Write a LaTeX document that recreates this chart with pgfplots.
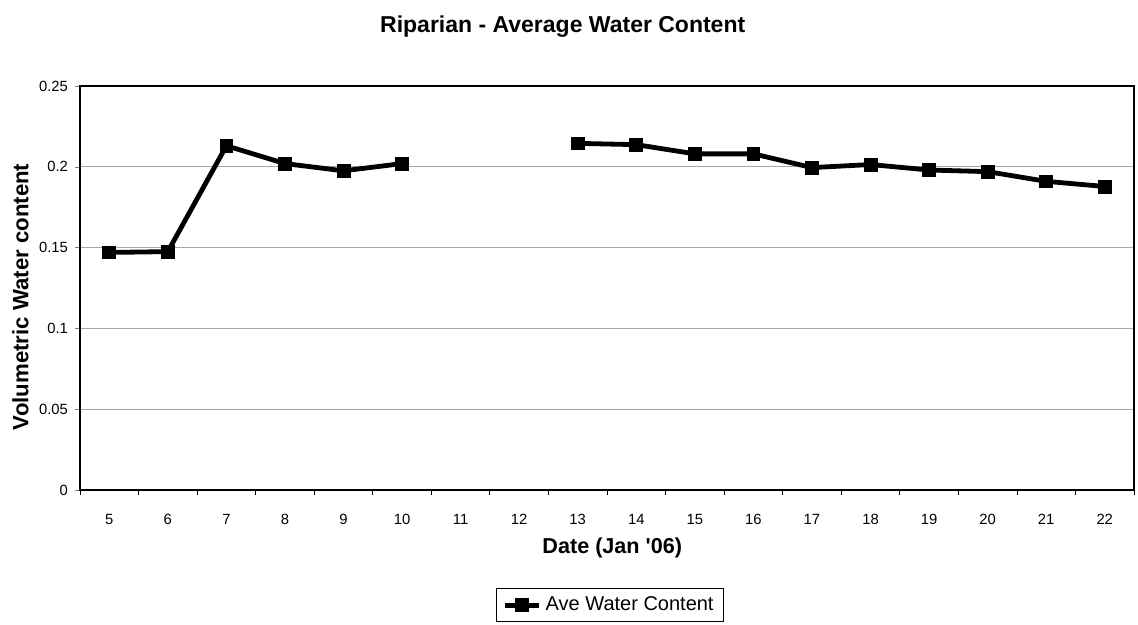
\documentclass[border=0pt]{standalone}
\usepackage{fontspec}
\setmainfont{Liberation Sans}
\usepackage{pgfplots}
\pgfplotsset{compat=1.18}

\begin{document}
\begin{tikzpicture}
\useasboundingbox (0,0) rectangle (569pt,312.5pt);
\begin{axis}[
  at={(40pt,67.5pt)}, anchor=south west,
  scale only axis,
  width=527pt, height=202pt,
  xmin=4.5, xmax=22.5,
  ymin=0, ymax=0.25,
  xtick={5,...,22},
  major x tick style={draw=none},
  minor xtick={4.5,5.5,...,22.5},
  minor x tick style={black, thin},
  minor tick length=2.5pt,
  ytick={0,0.05,0.1,0.15,0.2,0.25},
  yticklabels={0,0.05,0.1,0.15,0.2,0.25},
  major tick length=2.5pt,
  tick align=outside,
  xtick pos=bottom, ytick pos=left,
  ymajorgrids,
  grid style={gray!70, line width=0.5pt},
  axis line style={black, line width=0.7pt},
  ticklabel style={font=\fontsize{7.4}{8.5}\selectfont},
  xticklabel style={yshift=-6pt},
  /pgf/number format/assume math mode=true,
  title={\bfseries Riparian - Average Water Content},
  title style={at={(axis description cs:0.458,1.118)}, anchor=center, font=\fontsize{11.5}{13}\selectfont},
  xlabel={\bfseries Date (Jan \textquotesingle 06)},
  xlabel style={at={(axis description cs:0.505,-0.1436)}, anchor=center, font=\fontsize{10.8}{12}\selectfont},
  ylabel={\bfseries Volumetric Water content},
  ylabel style={at={(axis description cs:-0.0565,0.478)}, anchor=center, rotate=0, font=\fontsize{11.1}{12}\selectfont},
  unbounded coords=jump,
  legend style={at={(axis description cs:0.503,-0.285)}, anchor=center,
    draw=black, line width=0.6pt, font=\fontsize{10}{12}\selectfont,
    inner xsep=3pt, inner ysep=2pt},
  legend image post style={line width=2.4pt},
]
% Daily average volumetric water content; no readings on the 11th and 12th
\addplot[black, line width=2.4pt, mark=square*, mark size=3.2pt,
  mark options={line width=0.4pt}]
  coordinates {
    (5,0.147) (6,0.1475) (7,0.213) (8,0.202) (9,0.1975) (10,0.202)
    (11,nan) (12,nan)
    (13,0.2145) (14,0.2137) (15,0.208) (16,0.208) (17,0.1995) (18,0.2014)
    (19,0.198) (20,0.197) (21,0.191) (22,0.1878)
  };
\addlegendentry{Ave Water Content}
\end{axis}
\end{tikzpicture}
\end{document}
